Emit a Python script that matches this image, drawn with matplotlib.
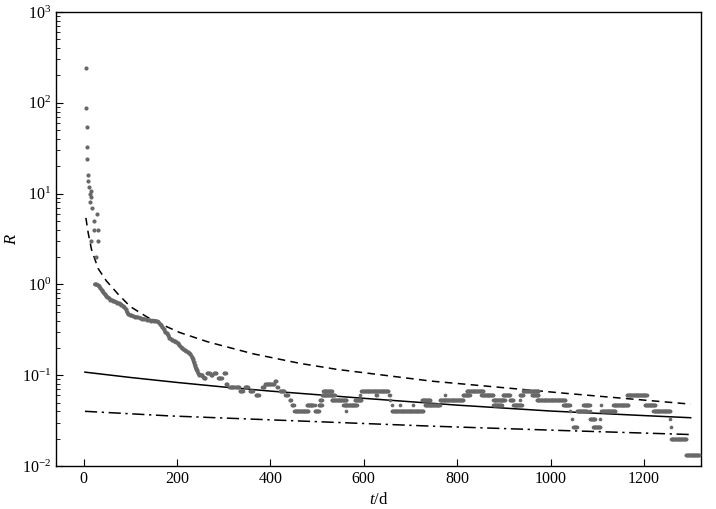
import numpy as np
import matplotlib
matplotlib.use("Agg")
import matplotlib.pyplot as plt

plt.rcParams['font.family'] = ['Liberation Serif', 'DejaVu Serif']
plt.rcParams['mathtext.fontset'] = 'custom'
plt.rcParams['mathtext.rm'] = 'Liberation Serif'
plt.rcParams['mathtext.it'] = 'Liberation Serif:italic'

# ---- early scattered points (t in days, R) ----
early_t = [4.5, 5, 6.5, 7, 8, 10, 9.5, 12, 17, 13.5, 15, 14, 18, 29, 23, 22, 32, 16, 31, 26]
early_R = [240, 88, 54.6, 32.8, 24, 16, 13.9, 11.9, 10.7, 10, 9.1, 8, 7, 6, 5, 4, 4, 3, 3, 2]

# ---- dense decline segment ----
decl_t = [24, 27, 30, 33, 36, 39, 42, 45, 48, 51, 54, 57, 60, 63, 66, 69, 72, 75, 78, 81,
          84, 87, 90, 93, 96, 99, 102, 105, 110, 115, 120, 125, 130, 135, 140, 145, 150,
          155, 160, 163, 166, 169, 172, 175, 178, 181, 184, 187, 190, 193, 196, 199, 202,
          205, 208, 211, 214, 217, 220, 223, 226, 229, 232, 234, 236, 238, 240, 242, 245,
          248, 251, 254, 257, 260]
decl_R = [1.0, 1.0, 0.98, 0.95, 0.92, 0.86, 0.82, 0.78, 0.75, 0.73, 0.71, 0.68, 0.67, 0.66,
          0.65, 0.64, 0.63, 0.62, 0.61, 0.6, 0.58, 0.56, 0.54, 0.5, 0.47, 0.46, 0.455, 0.45,
          0.44, 0.435, 0.43, 0.42, 0.415, 0.41, 0.405, 0.40, 0.40, 0.395, 0.39, 0.37, 0.355,
          0.34, 0.32, 0.30, 0.29, 0.275, 0.26, 0.25, 0.245, 0.24, 0.235, 0.23, 0.225, 0.215,
          0.205, 0.2, 0.193, 0.187, 0.183, 0.18, 0.176, 0.17, 0.16, 0.15, 0.14, 0.13, 0.12,
          0.113, 0.107, 0.1, 0.1, 0.1, 0.0933, 0.0933]

# ---- later daily runs of constant R: start day, end day, value ----
run_start = [264, 272, 279, 288, 300, 305, 312, 325, 335, 345, 356, 369, 383, 388, 410, 414,
             420, 432, 441,
             446, 478, 495, 504, 556, 660, 678, 706, 731, 877, 920, 1027, 1070, 1109, 1134, 1202,
             451, 495, 563, 660, 1041, 1056, 1084, 1109, 1220,
             506, 531, 581, 657, 724, 763, 877, 913, 934, 970,
             510, 592, 626, 655, 774, 812, 852, 898, 934, 960, 1163,
             513, 595, 820, 942,
             1045, 1084, 1106, 1256,
             1049, 1091, 1258,
             1258, 1290]
run_end = [270, 276, 284, 296, 304, 308, 322, 333, 341, 352, 362, 375, 387, 408, 413, 416,
           430, 437, 444,
           450, 492, 495, 510, 585, 660, 678, 706, 763, 895, 938, 1041, 1084, 1109, 1166, 1224,
           481, 504, 563, 727, 1041, 1077, 1084, 1138, 1256,
           510, 563, 595, 657, 742, 813, 902, 920, 934, 1031,
           538, 592, 628, 656, 774, 827, 877, 913, 941, 974, 1206,
           531, 652, 856, 974,
           1045, 1095, 1106, 1256,
           1056, 1106, 1258,
           1290, 1318]
run_R = [0.1067, 0.1, 0.1067, 0.0933, 0.1067, 0.08, 0.0733, 0.0733, 0.0667, 0.0733, 0.0667,
         0.06, 0.0733, 0.08, 0.0867, 0.0733, 0.0667, 0.06, 0.0533,
         0.0467, 0.0467, 0.0467, 0.0467, 0.0467, 0.0467, 0.0467, 0.0467, 0.0467, 0.0467, 0.0467,
         0.0467, 0.0467, 0.0467, 0.0467, 0.0467,
         0.04, 0.04, 0.04, 0.04, 0.04, 0.04, 0.04, 0.04, 0.04,
         0.0533, 0.0533, 0.0533, 0.0533, 0.0533, 0.0533, 0.0533, 0.0533, 0.0533, 0.0533,
         0.06, 0.06, 0.06, 0.06, 0.06, 0.06, 0.06, 0.06, 0.06, 0.06, 0.06,
         0.0667, 0.0667, 0.0667, 0.0667,
         0.0333, 0.0333, 0.0333, 0.0333,
         0.0267, 0.0267, 0.0267,
         0.02, 0.0133]

# ---- model curves ----
dash_t = [5, 10, 17, 31, 49, 74, 100, 135, 171, 206, 267, 363, 463, 542, 745, 1034, 1300]
dash_R = [5.4, 3.67, 2.43, 1.5, 1.09, 0.78, 0.57, 0.44, 0.355, 0.295, 0.232, 0.172, 0.135,
          0.116, 0.086, 0.063, 0.048]
solid_t = [3, 100, 200, 300, 400, 500, 600, 800, 1000, 1200, 1300]
solid_R = [0.108, 0.0944, 0.0832, 0.0741, 0.0668, 0.061, 0.0556, 0.0468, 0.0403, 0.0359, 0.034]
dd_t = [3, 185, 463, 742, 1034, 1300]
dd_R = [0.040, 0.0356, 0.0313, 0.0275, 0.0245, 0.0222]

run_days = np.concatenate([np.arange(s, e + 1) for s, e in zip(run_start, run_end)])
run_vals = np.concatenate([np.full(e - s + 1, v) for s, e, v in zip(run_start, run_end, run_R)])

fig = plt.figure(figsize=(7.16, 5.09), dpi=100)
ax = fig.add_axes([0.0782, 0.0845, 0.9008, 0.892])

pc = '#686868'
ax.scatter(early_t, early_R, s=9, color=pc, marker='o', linewidths=0, zorder=3)
ax.scatter(decl_t, decl_R, s=9, color=pc, marker='o', linewidths=0, zorder=3)
ax.plot(decl_t, decl_R, color=pc, lw=2.5, zorder=3, solid_capstyle='round')
ax.scatter(run_days, run_vals, s=7, color=pc, marker='o', linewidths=0, zorder=3)

ax.plot(dash_t, dash_R, color='black', lw=1.1, ls=(0, (5, 3.5)), zorder=2)
ax.plot(solid_t, solid_R, color='black', lw=1.1, ls='-', zorder=2)
ax.plot(dd_t, dd_R, color='black', lw=1.1, ls=(0, (8, 3, 1.5, 3)), zorder=2)

ax.set_yscale('log')
ax.set_ylim(1e-2, 1e3)
ax.set_xlim(-59, 1322)
ax.set_xticks([0, 200, 400, 600, 800, 1000, 1200])
ax.tick_params(axis='both', which='both', direction='in', labelsize=11.5)
ax.tick_params(axis='x', which='major', length=5, top=False)
ax.tick_params(axis='y', which='major', length=5, right=False)
ax.tick_params(axis='y', which='minor', length=3, right=False)
ax.tick_params(axis='x', which='minor', bottom=False)
for sp in ax.spines.values():
    sp.set_linewidth(1.0)

ax.set_xlabel(r'$\mathit{t}$/d', fontsize=12, labelpad=4)
ax.set_ylabel(r'$\mathit{R}$', fontsize=12, labelpad=1)

fig.savefig('out.png', dpi=100)
